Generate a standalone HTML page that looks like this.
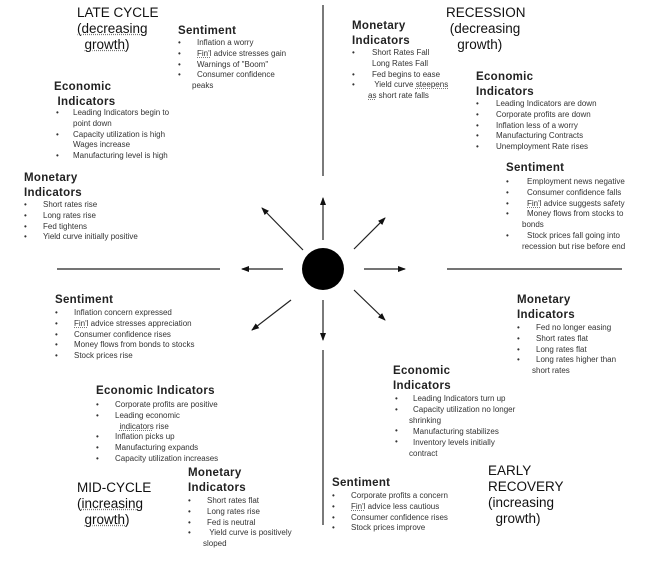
<!DOCTYPE html>
<html><head><meta charset="utf-8"><style>
body{margin:0;width:660px;height:568px;background:#fff;position:relative;overflow:hidden;font-family:"Liberation Sans",Arial,sans-serif;color:#111}
.t{position:absolute;white-space:nowrap;line-height:12px}
.h{font-weight:bold;font-size:11.5px;line-height:15px;letter-spacing:0.3px;color:#222}
.b{font-size:8px;color:#333;line-height:10.8px}
.big{font-size:13.5px;line-height:16px;color:#111}
.u{text-decoration:underline;text-decoration-style:dotted;text-decoration-color:#777}
.d{position:absolute;font-size:8px}
</style></head><body>
<svg width="660" height="568" style="position:absolute;left:0;top:0">
<defs><marker id="a" markerWidth="8" markerHeight="8" refX="7" refY="4" orient="auto" markerUnits="userSpaceOnUse"><path d="M0,1 L8,4 L0,7 z" fill="#111"/></marker></defs>
<g stroke="#222" stroke-width="1.2">
<line x1="323" y1="5" x2="323" y2="176"/>
<line x1="323" y1="350" x2="323" y2="525"/>
<line x1="57" y1="269" x2="220" y2="269"/>
<line x1="447" y1="269" x2="622" y2="269"/>
<g marker-end="url(#a)">
<line x1="323" y1="240" x2="323" y2="198"/>
<line x1="303" y1="250" x2="262" y2="208"/>
<line x1="354" y1="249" x2="385" y2="218"/>
<line x1="283" y1="269" x2="242" y2="269"/>
<line x1="364" y1="269" x2="405" y2="269"/>
<line x1="291" y1="300" x2="252" y2="330"/>
<line x1="323" y1="300" x2="323" y2="340"/>
<line x1="354" y1="290" x2="385" y2="320"/>
</g></g>
<circle cx="323" cy="269" r="21" fill="#000"/>
</svg>

<!-- LATE CYCLE -->
<div class="t big" style="left:77px;top:5px">LATE CYCLE<br><span class="u">(decreasing</span><br>&nbsp;&nbsp;<span class="u">growth</span>)</div>
<div class="t h" style="left:178px;top:24px">Sentiment</div>
<div class="t b" style="left:178px;top:38px">•<br>•<br>•<br>•</div>
<div class="t b" style="left:197px;top:38px">Inflation a worry<br><span class="u">Fin'l</span> advice stresses gain<br>Warnings of "Boom"<br>Consumer confidence</div>
<div class="t b" style="left:192px;top:81px">peaks</div>

<div class="t h" style="left:54px;top:80px">Economic<br>&nbsp;Indicators</div>
<div class="t b" style="left:56px;top:108px">•<br><br>•<br><br>•</div>
<div class="t b" style="left:73px;top:108px">Leading Indicators begin to<br>point down<br>Capacity utilization is high<br>Wages increase<br>Manufacturing level is high</div>

<div class="t h" style="left:24px;top:171px">Monetary<br>Indicators</div>
<div class="t b" style="left:24px;top:200px">•<br>•<br>•<br>•</div>
<div class="t b" style="left:43px;top:200px">Short rates rise<br>Long rates rise<br>Fed tightens<br>Yield curve initially positive</div>

<!-- RECESSION -->
<div class="t big" style="left:446px;top:5px">RECESSION<br>&nbsp;(decreasing<br>&nbsp;&nbsp;&nbsp;growth)</div>
<div class="t h" style="left:352px;top:19px">Monetary<br>Indicators</div>
<div class="t b" style="left:352px;top:48px">•<br><br>•<br>•</div>
<div class="t b" style="left:372px;top:48px">Short Rates Fall<br>Long Rates Fall<br>Fed begins to ease<br>&nbsp;Yield curve <span class="u">steepens</span></div>
<div class="t b" style="left:368px;top:91px"><span class="u">as</span> short rate falls</div>

<div class="t h" style="left:476px;top:70px">Economic<br>Indicators</div>
<div class="t b" style="left:476px;top:99px">•<br>•<br>•<br>•<br>•</div>
<div class="t b" style="left:496px;top:99px">Leading Indicators are down<br>Corporate profits are down<br>Inflation less of a worry<br>Manufacturing Contracts<br>Unemployment Rate rises</div>

<div class="t h" style="left:506px;top:161px">Sentiment</div>
<div class="t b" style="left:506px;top:177px">•<br>•<br>•<br>•<br><br>•</div>
<div class="t b" style="left:527px;top:177px">Employment news negative<br>Consumer confidence falls<br><span class="u">Fin'l</span> advice suggests safety<br>Money flows from stocks to</div>
<div class="t b" style="left:522px;top:220px">bonds</div>
<div class="t b" style="left:527px;top:231px">Stock prices fall going into</div>
<div class="t b" style="left:522px;top:242px">recession but rise before end</div>

<!-- MID CYCLE -->
<div class="t h" style="left:55px;top:293px">Sentiment</div>
<div class="t b" style="left:55px;top:308px">•<br>•<br>•<br>•<br>•</div>
<div class="t b" style="left:74px;top:308px">Inflation concern expressed<br><span class="u">Fin'l</span> advice stresses appreciation<br>Consumer confidence rises<br>Money flows from bonds to stocks<br>Stock prices rise</div>

<div class="t h" style="left:96px;top:384px">Economic Indicators</div>
<div class="t b" style="left:96px;top:400px">•<br>•<br><br>•<br>•<br>•</div>
<div class="t b" style="left:115px;top:400px">Corporate profits are positive<br>Leading economic<br>&nbsp;&nbsp;<span class="u">indicators</span> rise<br>Inflation picks up<br>Manufacturing expands<br>Capacity utilization increases</div>

<div class="t big" style="left:77px;top:480px">MID-CYCLE<br>(<span class="u">increasing</span><br>&nbsp;&nbsp;<span class="u">growth</span>)</div>
<div class="t h" style="left:188px;top:466px">Monetary<br>Indicators</div>
<div class="t b" style="left:188px;top:496px">•<br>•<br>•<br>•</div>
<div class="t b" style="left:207px;top:496px">Short rates flat<br>Long rates rise<br>Fed is neutral<br>&nbsp;Yield curve is positively</div>
<div class="t b" style="left:203px;top:539px">sloped</div>

<!-- EARLY RECOVERY -->
<div class="t h" style="left:517px;top:293px">Monetary<br>Indicators</div>
<div class="t b" style="left:517px;top:323px">•<br>•<br>•<br>•</div>
<div class="t b" style="left:536px;top:323px">Fed no longer easing<br>Short rates flat<br>Long rates flat<br>Long rates higher than</div>
<div class="t b" style="left:532px;top:366px">short rates</div>

<div class="t h" style="left:393px;top:364px">Economic<br>Indicators</div>
<div class="t b" style="left:395px;top:394px">•<br>•<br><br>•<br>•</div>
<div class="t b" style="left:413px;top:394px">Leading Indicators turn up<br>Capacity utilization no longer</div>
<div class="t b" style="left:409px;top:416px">shrinking</div>
<div class="t b" style="left:413px;top:427px">Manufacturing stabilizes<br>Inventory levels initially</div>
<div class="t b" style="left:409px;top:449px">contract</div>

<div class="t big" style="left:488px;top:463px">EARLY<br>RECOVERY<br>(increasing<br>&nbsp;&nbsp;growth)</div>
<div class="t h" style="left:332px;top:476px">Sentiment</div>
<div class="t b" style="left:332px;top:491px">•<br>•<br>•<br>•</div>
<div class="t b" style="left:351px;top:491px">Corporate profits a concern<br><span class="u">Fin'l</span> advice less cautious<br>Consumer confidence rises<br>Stock prices improve</div>
</body></html>
